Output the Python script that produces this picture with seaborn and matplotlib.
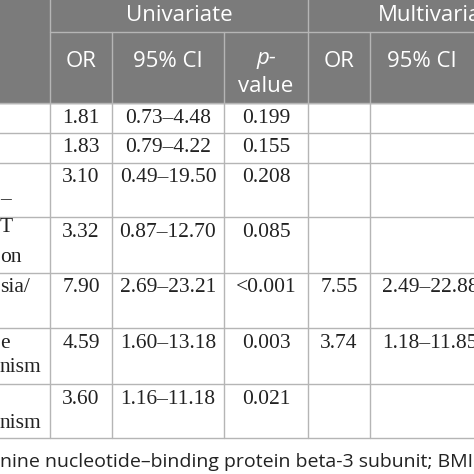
import matplotlib
matplotlib.use('Agg')
import matplotlib.pyplot as plt
import seaborn as sns

sns.set_theme(style='white')

# table contents
or_uni = ['1.81', '1.83', '3.10', '3.32', '7.90', '4.59', '3.60']
ci_uni = ['0.73–4.48', '0.79–4.22', '0.49–19.50', '0.87–12.70', '2.69–23.21', '1.60–13.18', '1.16–11.18']
p_uni = ['0.199', '0.155', '0.208', '0.085', '<0.001', '0.003', '0.021']
or_multi = ['', '', '', '', '7.55', '3.74', '']
ci_multi = ['', '', '', '', '2.49–22.88', '1.18–11.85', '']
row_labels = [[], [], [(200, '–')], [(227, 'T'), (258, 'on')], [(288, 'sia/')],
              [(343, 'e'), (368, 'nism')], [(423, 'nism')]]
footnote = 'nine nucleotide–binding protein beta-3 subunit; BMI, body m'

col_edges = [-10, 50, 112, 224, 308, 370, 490]
row_edges = [103, 133, 163, 217, 273, 328, 384, 438]

fig = plt.figure(figsize=(4.74, 4.74), dpi=100)
ax = fig.add_axes([0, 0, 1, 1])
ax.set_xlim(0, 474)
ax.set_ylim(474, 0)
ax.axis('off')

hdr = '#7b7b7b'
line = '#b5b5b5'
sans = 'Open Sans'
serif = 'Liberation Serif'

# header block
ax.add_patch(plt.Rectangle((-10, -10), 500, 113, color=hdr, zorder=0))
ax.plot([50, 490], [32, 32], color=line, lw=1)
for x in [50, 308]:
    ax.plot([x, x], [-10, 103], color=line, lw=1)
for x in [112, 224, 370]:
    ax.plot([x, x], [32, 103], color=line, lw=1)
ax.text(179, 15, 'Univariate', color='white', fontsize=16, family=sans, ha='center', va='center')
ax.text(378, 15, 'Multivaria', color='white', fontsize=16, family=sans, ha='left', va='center')
for xc, t in [(81, 'OR'), (168, '95% CI'), (339, 'OR'), (422, '95% CI')]:
    ax.text(xc, 61, t, color='white', fontsize=16, family=sans, ha='center', va='center')
ax.text(266, 58, 'p-', color='white', fontsize=16, family=sans, style='italic', ha='center', va='center')
ax.text(266, 86, 'value', color='white', fontsize=16, family=sans, ha='center', va='center')

# body grid
for y in row_edges:
    ax.plot([-10, 490], [y, y], color=line, lw=1)
for x in col_edges[1:-1]:
    ax.plot([x, x], [103, 438], color=line, lw=1)

cols = [or_uni, ci_uni, p_uni, or_multi, ci_multi]
for i in range(len(or_uni)):
    y = row_edges[i] + 15
    for j, vals in enumerate(cols):
        xc = (col_edges[j + 1] + col_edges[j + 2]) / 2
        ax.text(xc, y, vals[i], fontsize=15.5, family=serif, color='#222222', ha='center', va='center')
    for yy, t in row_labels[i]:
        ax.text(0, yy, t, fontsize=15.5, family=serif, color='#222222', ha='left', va='center')

ax.text(0, 462, footnote, fontsize=14, family=sans, color='#222222', ha='left', va='center', clip_on=True)

fig.savefig('out.png', dpi=100)
